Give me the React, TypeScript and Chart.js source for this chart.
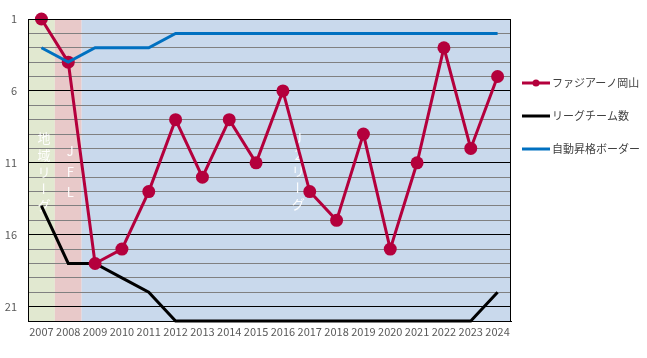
import { useEffect, useRef } from 'react';
import { Chart, registerables } from 'chart.js';

Chart.register(...registerables);

const years = ['2007', '2008', '2009', '2010', '2011', '2012', '2013', '2014', '2015', '2016', '2017', '2018', '2019', '2020', '2021', '2022', '2023', '2024'];
const okayamaRank = [1, 4, 18, 17, 13, 8, 12, 8, 11, 6, 13, 15, 9, 17, 11, 3, 10, 5];
const leagueTeams = [14, 18, 18, 19, 20, 22, 22, 22, 22, 22, 22, 22, 22, 22, 22, 22, 22, 20];
const promotionBorder = [3, 4, 3, 3, 3, 2, 2, 2, 2, 2, 2, 2, 2, 2, 2, 2, 2, 2];
const yTickLabels = [1, 6, 11, 16, 21];
const seriesNames = ['ファジアーノ岡山', 'リーグチーム数', '自動昇格ボーダー'];

const bandFrom = [0, 1, 2];
const bandTo = [0, 1, 17];
const bandLabels = ['地域リーグ', 'JFL', 'J2リーグ'];

const bandColors = ['#e1e8d0', '#e8c9c9', '#c9d9ec'];
const FONT = "'Noto Sans CJK JP', 'Liberation Sans', sans-serif";

const bgPlugin = {
  id: 'bands',
  beforeDraw(chart: any) {
    const { ctx, chartArea, scales } = chart;
    const xs = scales.x;
    const half = (xs.getPixelForValue(1) - xs.getPixelForValue(0)) / 2;
    ctx.save();
    bandFrom.forEach((f, i) => {
      const x0 = xs.getPixelForValue(f) - half;
      const x1 = xs.getPixelForValue(bandTo[i]) + half;
      ctx.fillStyle = bandColors[i];
      ctx.fillRect(x0, chartArea.top, x1 - x0, chartArea.bottom - chartArea.top);
    });
    ctx.restore();
  },
  beforeDatasetsDraw(chart: any) {
    const { ctx, scales } = chart;
    const xs = scales.x;
    const ys = scales.y;
    const half = (xs.getPixelForValue(1) - xs.getPixelForValue(0)) / 2;
    const spots = [
      { x: xs.getPixelForValue(0) + 2.5, y: ys.getPixelForValue(9.3), step: 16.8 },
      { x: xs.getPixelForValue(1) + 2, y: ys.getPixelForValue(10.2), step: 20.5 },
      { x: xs.getPixelForValue(9) + half + 2, y: ys.getPixelForValue(9.3), step: 16.5 },
    ];
    ctx.save();
    ctx.fillStyle = 'rgba(255,255,255,0.95)';
    ctx.font = `13px ${FONT}`;
    ctx.textAlign = 'center';
    ctx.textBaseline = 'middle';
    bandLabels.forEach((label, i) => {
      const s = spots[i];
      Array.from(label).forEach((ch, k) => {
        const cy = s.y + k * s.step;
        if (ch === 'ー') {
          ctx.save();
          ctx.translate(s.x, cy);
          ctx.rotate(Math.PI / 2);
          ctx.fillText(ch, 0, 0);
          ctx.restore();
        } else {
          ctx.fillText(ch, s.x, cy);
        }
      });
    });
    ctx.restore();
  },
  afterDraw(chart: any) {
    const { ctx, chartArea } = chart;
    ctx.save();
    ctx.strokeStyle = '#000';
    ctx.lineWidth = 1;
    ctx.strokeRect(chartArea.left + 0.5, chartArea.top + 0.5, chartArea.right - chartArea.left - 1, chartArea.bottom - chartArea.top);
    const lx0 = chartArea.right + 11;
    const lx1 = lx0 + 28;
    const ys0 = [83, 116, 149];
    chart.data.datasets.forEach((ds: any, i: number) => {
      const y = ys0[i];
      ctx.strokeStyle = ds.borderColor;
      ctx.lineWidth = 3;
      ctx.beginPath();
      ctx.moveTo(lx0, y);
      ctx.lineTo(lx1, y);
      ctx.stroke();
      if (ds.pointRadius > 0) {
        ctx.fillStyle = ds.borderColor;
        ctx.beginPath();
        ctx.arc((lx0 + lx1) / 2, y, 3.5, 0, Math.PI * 2);
        ctx.fill();
      }
      ctx.fillStyle = '#404040';
      ctx.font = `11px ${FONT}`;
      ctx.textAlign = 'left';
      ctx.textBaseline = 'middle';
      ctx.fillText(ds.label, lx1 + 2, y);
    });
    ctx.restore();
  },
};

export default function App() {
  const ref = useRef<HTMLCanvasElement>(null);
  useEffect(() => {
    if (!ref.current) return;
    const chart = new Chart(ref.current, {
      type: 'line',
      data: {
        labels: years,
        datasets: [
          {
            label: seriesNames[0],
            data: okayamaRank,
            borderColor: '#b4003c',
            backgroundColor: '#b4003c',
            borderWidth: 3,
            pointRadius: 6.5,
            pointHoverRadius: 6.5,
            pointBackgroundColor: '#b4003c',
            pointBorderWidth: 0,
            tension: 0,
            clip: false,
            order: 1,
          },
          {
            label: seriesNames[1],
            data: leagueTeams,
            borderColor: '#000000',
            backgroundColor: '#000000',
            borderWidth: 3,
            pointRadius: 0,
            tension: 0,
            clip: false,
            order: 2,
          },
          {
            label: seriesNames[2],
            data: promotionBorder,
            borderColor: '#0070c0',
            backgroundColor: '#0070c0',
            borderWidth: 3,
            pointRadius: 0,
            tension: 0,
            clip: false,
            order: 0,
          },
        ],
      },
      options: {
        animation: false,
        responsive: true,
        maintainAspectRatio: false,
        layout: { padding: { top: 19, right: 136, left: 0, bottom: 0 } },
        plugins: { legend: { display: false }, tooltip: { enabled: false } },
        scales: {
          x: {
            offset: true,
            grid: { display: false, drawTicks: false },
            border: { display: true, color: '#000', width: 1 },
            ticks: {
              color: '#595959',
              font: { size: 11, family: FONT },
              padding: 4,
              maxRotation: 0,
              autoSkip: false,
            },
            afterFit(scale: any) {
              scale.height = 37;
            },
          },
          y: {
            reverse: true,
            min: 1,
            max: 22,
            border: { display: true, color: '#000', width: 1 },
            grid: {
              drawTicks: false,
              color: (c: any) => (yTickLabels.includes(c.tick.value) ? '#000000' : '#808080'),
              lineWidth: 1,
            },
            ticks: {
              stepSize: 1,
              autoSkip: false,
              padding: 11,
              color: '#595959',
              font: { size: 11, family: FONT },
              callback: (v: any) => (yTickLabels.includes(Number(v)) ? String(v) : ''),
            },
            afterFit(scale: any) {
              scale.width = 28;
            },
          },
        },
      },
      plugins: [bgPlugin],
    });
    return () => chart.destroy();
  }, []);
  return (
    <div style={{ position: 'absolute', left: 0, top: 0, width: 647, height: 358, background: '#fff' }}>
      <canvas ref={ref} />
    </div>
  );
}
